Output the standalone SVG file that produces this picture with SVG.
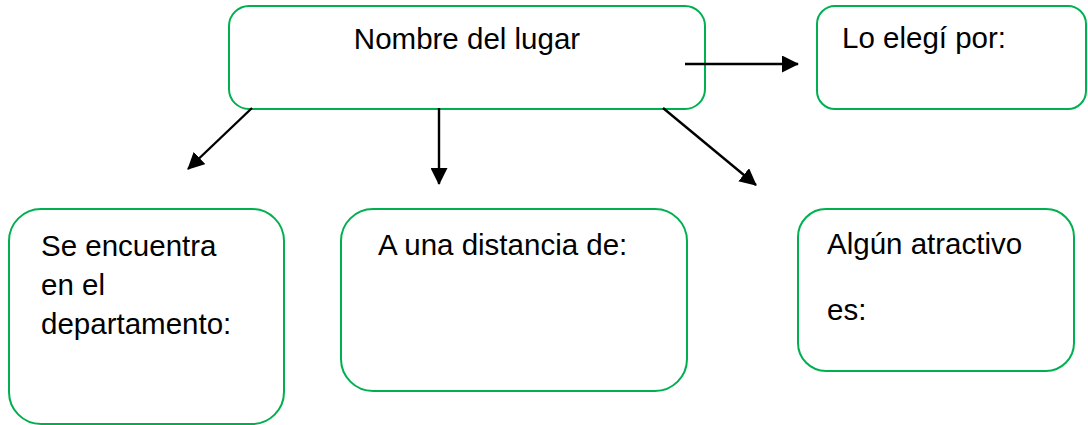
<svg xmlns="http://www.w3.org/2000/svg" width="1088" height="425" viewBox="0 0 1088 425">
<style>
.box{fill:#fff;stroke:#00B050;stroke-width:2}
.t{font-family:"Liberation Sans",Arial,sans-serif;font-size:29.5px;fill:#000}
.c{stroke:#000;stroke-width:2.4;fill:none}
</style>
<defs>
<marker id="ah" markerUnits="userSpaceOnUse" markerWidth="17" markerHeight="17" refX="16" refY="8.5" orient="auto" viewBox="0 0 17 17">
<path d="M0,0 L17,8.5 L0,17 Z" fill="#000"/>
</marker>
</defs>
<rect width="1088" height="425" fill="#fff"/>
<g id="n-lugar"><rect class="box" x="229" y="6" width="476" height="103" rx="20"/><text class="t" x="467" y="49" text-anchor="middle">Nombre del lugar</text></g>
<g id="n-elegi"><rect class="box" x="817" y="6" width="269" height="103" rx="18"/><text class="t" x="842" y="48">Lo elegí por:</text></g>
<g id="n-depto"><rect class="box" x="9" y="209" width="275" height="215" rx="32"/><text class="t" x="41" y="256">Se encuentra</text><text class="t" x="41" y="295">en el</text><text class="t" x="41" y="334">departamento:</text></g>
<g id="n-dist"><rect class="box" x="341" y="209" width="346" height="182" rx="32"/><text class="t" x="378" y="255">A una distancia de:</text></g>
<g id="n-atract"><rect class="box" x="798" y="209" width="276" height="162" rx="28"/><text class="t" x="827" y="254">Algún atractivo</text><text class="t" x="827" y="320">es:</text></g>
<g id="connectors">
<line class="c" x1="685" y1="64" x2="798" y2="64" marker-end="url(#ah)"/>
<line class="c" x1="252" y1="108" x2="188" y2="169" marker-end="url(#ah)"/>
<line class="c" x1="439" y1="108" x2="439" y2="184" marker-end="url(#ah)"/>
<line class="c" x1="663" y1="108" x2="756" y2="185" marker-end="url(#ah)"/>
</g>
</svg>
